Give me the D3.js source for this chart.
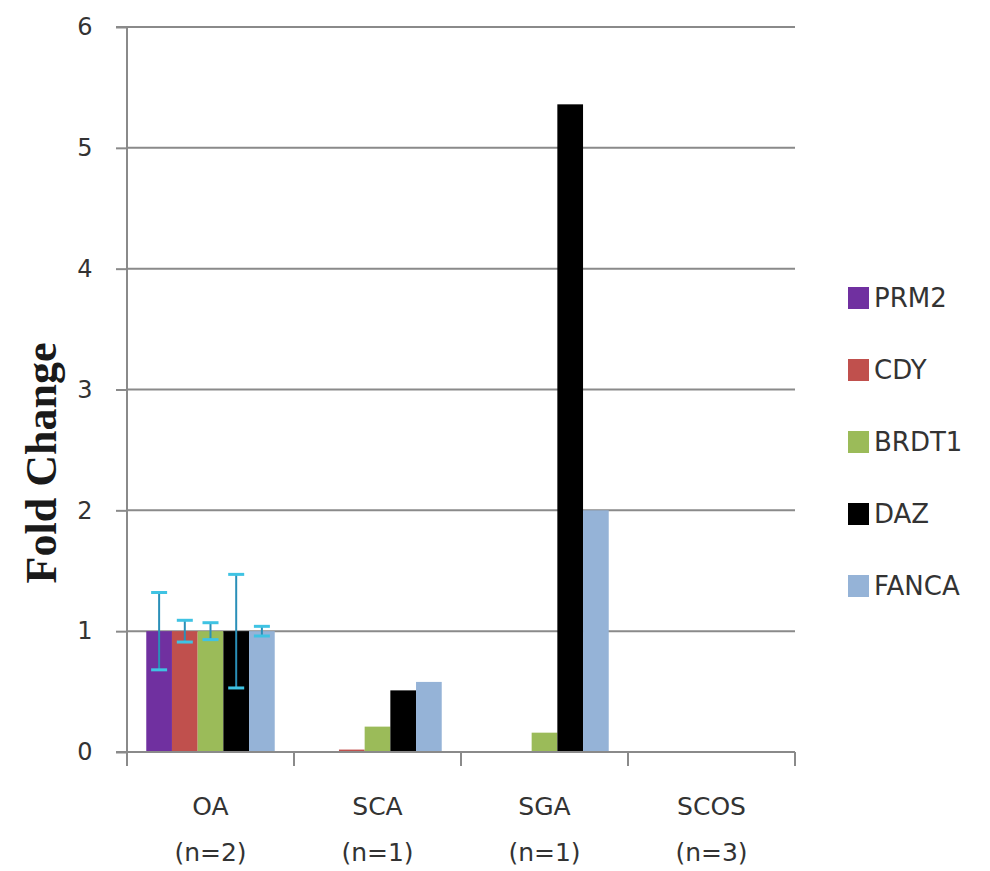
<!DOCTYPE html>
<html>
<head>
<meta charset="utf-8">
<script src="https://cdn.jsdelivr.net/npm/d3@7"></script>
<style>
  html, body { margin: 0; padding: 0; background: #ffffff; }
  svg { display: block; }
</style>
</head>
<body>
<svg id="chart" width="990" height="871"></svg>
<script>
// ---- data ----
const categories = ["OA", "SCA", "SGA", "SCOS"];
const sampleSizes = ["(n=2)", "(n=1)", "(n=1)", "(n=3)"];
const seriesNames = ["PRM2", "CDY", "BRDT1", "DAZ", "FANCA"];
const seriesColors = ["#7030a0", "#c0504d", "#9bbb59", "#000000", "#95b3d7"];
const valuesPRM2  = [1.0, 0.0,  0.0,  0.0];
const valuesCDY   = [1.0, 0.02, 0.0,  0.0];
const valuesBRDT1 = [1.0, 0.21, 0.16, 0.0];
const valuesDAZ   = [1.0, 0.51, 5.36, 0.0];
const valuesFANCA = [1.0, 0.58, 2.0,  0.0];
const errorsOA = [0.32, 0.09, 0.07, 0.47, 0.04]; // +/- on OA bars, by series
const yTicks = [0, 1, 2, 3, 4, 5, 6];
const yTitle = "Fold Change";

const seriesValues = [valuesPRM2, valuesCDY, valuesBRDT1, valuesDAZ, valuesFANCA];

// ---- layout ----
const svg = d3.select("#chart");
const plotLeft = 127, plotRight = 795, plotTop = 27, plotBottom = 752;

const x = d3.scaleBand().domain(categories).range([plotLeft, plotRight]).paddingInner(0).paddingOuter(0);
const x1 = d3.scaleBand().domain(seriesNames).range([0, x.bandwidth()]).paddingInner(0).paddingOuter(0.75);
const y = d3.scaleLinear().domain([0, 6]).range([plotBottom, plotTop]);

const gridColor = "#8a8a8a";
const textColor = "#333333";
const sansFont = "'DejaVu Sans', sans-serif";

// gridlines
svg.append("g")
  .selectAll("line")
  .data(yTicks.filter(d => d > 0))
  .join("line")
  .attr("x1", plotLeft).attr("x2", plotRight)
  .attr("y1", d => y(d)).attr("y2", d => y(d))
  .attr("stroke", gridColor).attr("stroke-width", 2);

// bars
const barData = [];
categories.forEach((c, ci) => {
  seriesNames.forEach((s, si) => {
    barData.push({cat: c, series: s, value: seriesValues[si][ci], color: seriesColors[si]});
  });
});
svg.append("g")
  .selectAll("rect")
  .data(barData.filter(d => d.value > 0))
  .join("rect")
  .attr("x", d => x(d.cat) + x1(d.series))
  .attr("width", x1.bandwidth())
  .attr("y", d => y(d.value))
  .attr("height", d => y(0) - y(d.value))
  .attr("fill", d => d.color);

// x axis line
svg.append("line")
  .attr("x1", plotLeft).attr("x2", plotRight)
  .attr("y1", y(0)).attr("y2", y(0))
  .attr("stroke", gridColor).attr("stroke-width", 2);

// category boundary ticks
const boundaries = categories.map(c => x(c)).concat([x(categories[categories.length - 1]) + x.bandwidth()]);
svg.append("g")
  .selectAll("line")
  .data(boundaries)
  .join("line")
  .attr("x1", d => d).attr("x2", d => d)
  .attr("y1", y(0)).attr("y2", y(0) + 14)
  .attr("stroke", gridColor).attr("stroke-width", 2);

// y axis
const yAxis = d3.axisLeft(y).tickValues(yTicks).tickSize(11).tickPadding(31).tickFormat(d3.format("d"));
const yg = svg.append("g").attr("transform", `translate(${plotLeft},0)`).call(yAxis);
yg.select(".domain").attr("stroke", gridColor).attr("stroke-width", 2).attr("fill", "none")
  .attr("d", `M-11,${plotTop}H0V${plotBottom}H-11`);
yg.selectAll(".tick line").attr("stroke", gridColor).attr("stroke-width", 2);
yg.selectAll(".tick text")
  .attr("fill", textColor)
  .style("font-family", sansFont)
  .style("font-size", "24px")
  .attr("text-anchor", "middle");

// error bars on OA
const errData = seriesNames.map((s, si) => ({series: s, value: seriesValues[si][0], err: errorsOA[si]}));
const eg = svg.append("g");
const cx = d => x(categories[0]) + x1(d.series) + x1.bandwidth() / 2;
eg.selectAll("line.v")
  .data(errData)
  .join("line")
  .attr("class", "v")
  .attr("x1", cx).attr("x2", cx)
  .attr("y1", d => y(d.value + d.err)).attr("y2", d => y(d.value - d.err))
  .attr("stroke", "#2a8fb8").attr("stroke-width", 2);
["top", "bot"].forEach(k => {
  eg.selectAll("line." + k)
    .data(errData)
    .join("line")
    .attr("class", k)
    .attr("x1", d => cx(d) - 8).attr("x2", d => cx(d) + 8)
    .attr("y1", d => y(k === "top" ? d.value + d.err : d.value - d.err))
    .attr("y2", d => y(k === "top" ? d.value + d.err : d.value - d.err))
    .attr("stroke", "#3fc3e3").attr("stroke-width", 3);
});

// category labels
const lg = svg.append("g").style("font-family", sansFont).style("font-size", "25px").attr("fill", textColor);
lg.selectAll("text.cat")
  .data(categories)
  .join("text")
  .attr("class", "cat")
  .attr("x", d => x(d) + x.bandwidth() / 2)
  .attr("y", 815)
  .attr("text-anchor", "middle")
  .text(d => d);
lg.selectAll("text.n")
  .data(categories)
  .join("text")
  .attr("class", "n")
  .attr("x", d => x(d) + x.bandwidth() / 2)
  .attr("y", 861)
  .attr("text-anchor", "middle")
  .text((d, i) => sampleSizes[i]);

// y title
svg.append("text")
  .attr("transform", `translate(56,463) rotate(-90)`)
  .attr("text-anchor", "middle")
  .style("font-family", "'Liberation Serif', 'Times New Roman', serif")
  .style("font-weight", "bold")
  .style("font-size", "44px")
  .attr("fill", "#1a1a1a")
  .text(yTitle);

// legend
const legend = svg.append("g");
const legY = d3.scalePoint().domain(seriesNames).range([298, 586]);
const items = legend.selectAll("g").data(seriesNames).join("g")
  .attr("transform", d => `translate(848,${legY(d)})`);
items.append("rect")
  .attr("x", 0).attr("y", -11).attr("width", 21).attr("height", 22)
  .attr("fill", (d, i) => seriesColors[i]);
items.append("text")
  .attr("x", 26).attr("y", 0).attr("dy", "0.36em")
  .style("font-family", sansFont).style("font-size", "26px")
  .attr("fill", textColor)
  .text(d => d);
</script>
</body>
</html>
